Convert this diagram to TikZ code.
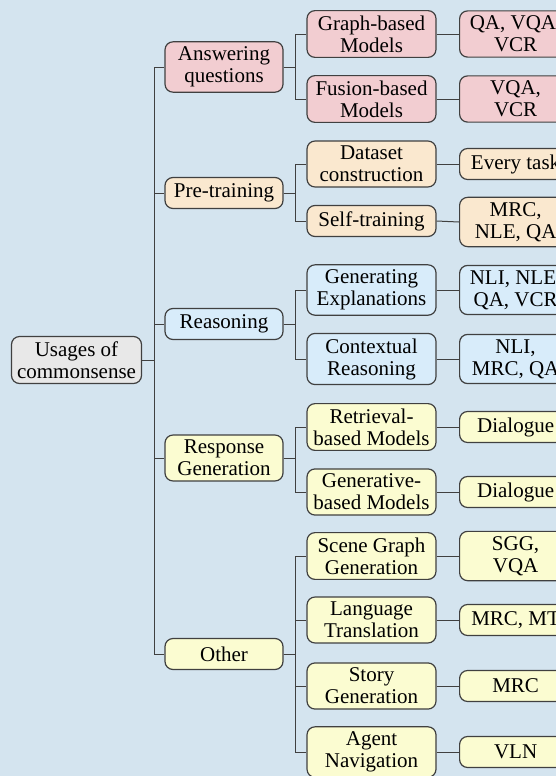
\documentclass[tikz,border=0pt]{standalone}
\usepackage{fontspec}
\setmainfont{Liberation Serif}
\usetikzlibrary{positioning}
\definecolor{bgblue}{RGB}{212,228,239}
\definecolor{redbox}{RGB}{242,205,209}
\definecolor{orangebox}{RGB}{250,232,207}
\definecolor{bluebox}{RGB}{216,236,250}
\definecolor{yellowbox}{RGB}{251,252,209}
\definecolor{graybox}{RGB}{232,232,232}
\begin{document}
\begin{tikzpicture}[x=0.5pt, y=-0.5pt,
    box/.style={draw=black!75, line width=0.6pt, rounded corners=4pt, align=center, inner xsep=2pt, inner ysep=2.5pt, minimum height=15.5pt, font=\fontsize{10.5}{11}\selectfont},
    rootbox/.style={box, fill=graybox, minimum width=65pt},
    topbox/.style={box, minimum width=59pt},
    midbox/.style={box, minimum width=64.5pt},
    leafbox/.style={box, minimum width=56pt, anchor=west},
    link/.style={draw=black!75, line width=0.5pt}
]
% Canvas
\clip (0,0) rectangle (556,776);
\fill[bgblue] (0,0) rectangle (556,776);

% Root
\node[rootbox] (root) at (76.5,360) {Usages of\\commonsense};

% First level
\node[topbox, fill=redbox] (ans) at (224,67) {Answering\\questions};
\node[topbox, fill=orangebox] (pre) at (224,193) {Pre-training};
\node[topbox, fill=bluebox] (rea) at (224,324) {Reasoning};
\node[topbox, fill=yellowbox] (resp) at (224,458) {Response\\Generation};
\node[topbox, fill=yellowbox] (oth) at (224,654) {Other};

% Second level
\node[midbox, fill=redbox] (graph) at (371.5,34) {Graph-based\\Models};
\node[midbox, fill=redbox] (fusion) at (371.5,99) {Fusion-based\\Models};
\node[midbox, fill=orangebox] (dataset) at (371.5,164) {Dataset\\construction};
\node[midbox, fill=orangebox] (selftrain) at (371.5,221) {Self-training};
\node[midbox, fill=bluebox] (genexp) at (371.5,290) {Generating\\Explanations};
\node[midbox, fill=bluebox] (context) at (371.5,359) {Contextual\\Reasoning};
\node[midbox, fill=yellowbox] (retrieval) at (371.5,427) {Retrieval-\\based Models};
\node[midbox, fill=yellowbox] (generative) at (371.5,492) {Generative-\\based Models};
\node[midbox, fill=yellowbox] (scene) at (371.5,556) {Scene Graph\\Generation};
\node[midbox, fill=yellowbox] (transl) at (371.5,620) {Language\\Translation};
\node[midbox, fill=yellowbox] (story) at (371.5,686) {Story\\Generation};
\node[midbox, fill=yellowbox] (agent) at (371.5,752) {Agent\\Navigation};

% Tasks
\node[leafbox, fill=redbox] (graph-t) at (459,34) {QA, VQA,\\VCR};
\node[leafbox, fill=redbox] (fusion-t) at (459,99) {VQA,\\VCR};
\node[leafbox, fill=orangebox] (dataset-t) at (459,164) {Every task};
\node[leafbox, fill=orangebox] (selftrain-t) at (459,222) {MRC,\\NLE, QA};
\node[leafbox, fill=bluebox] (genexp-t) at (459,290) {NLI, NLE,\\QA, VCR};
\node[leafbox, fill=bluebox] (context-t) at (459,359) {NLI,\\MRC, QA};
\node[leafbox, fill=yellowbox] (retrieval-t) at (459,427) {Dialogue};
\node[leafbox, fill=yellowbox] (generative-t) at (459,492) {Dialogue};
\node[leafbox, fill=yellowbox] (scene-t) at (459,556) {SGG,\\VQA};
\node[leafbox, fill=yellowbox] (transl-t) at (459,620) {MRC, MT};
\node[leafbox, fill=yellowbox] (story-t) at (459,686) {MRC};
\node[leafbox, fill=yellowbox] (agent-t) at (459,752) {VLN};

% Tree edges
\foreach \p/\c in {root/ans, root/pre, root/rea, root/resp, root/oth,
                   ans/graph, ans/fusion, pre/dataset, pre/selftrain,
                   rea/genexp, rea/context, resp/retrieval, resp/generative,
                   oth/scene, oth/transl, oth/story, oth/agent}
    \draw[link] (\p.east) -- ++(6pt,0) |- (\c.west);
\foreach \c in {graph, fusion, dataset, selftrain, genexp, context,
                retrieval, generative, scene, transl, story, agent}
    \draw[link] (\c.east) -- (\c-t.west);
\end{tikzpicture}
\end{document}
